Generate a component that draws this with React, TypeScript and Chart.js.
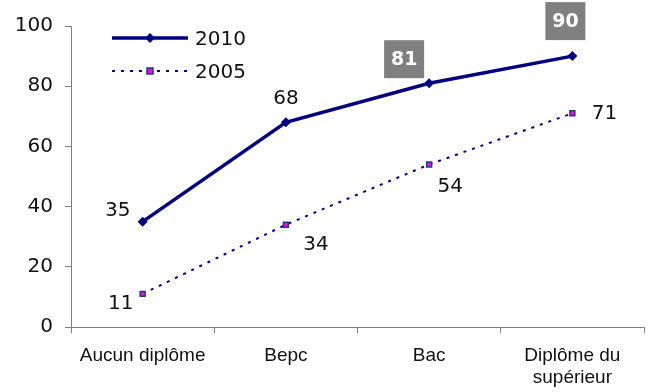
import React, { useEffect, useRef } from "react";
import { Chart, registerables } from "chart.js";

Chart.register(...registerables);

const categories: (string | string[])[] = ["Aucun diplôme", "Bepc", "Bac", ["Diplôme du", "supérieur"]];
const series2010 = [35, 68, 81, 90];
const series2005 = [11, 34, 54, 71];
const yTicks = [0, 20, 40, 60, 80, 100];

const NAVY = "#000080";
const NUM_FONT = "DejaVu Sans, Verdana, sans-serif";

// label placement (offsets from the point, in px) and box style
const labelOffsets2010 = [[-25, -12], [0, -25], [-25, -24], [-7, -35]];
const boxed2010 = [false, false, true, true];
const labelOffsets2005 = [[-22, 9], [30, 19], [21, 21], [32, 0]];

const labelsPlugin = {
  id: "customLabels",
  afterDatasetsDraw(chart: any) {
    const ctx = chart.ctx;
    ctx.save();
    ctx.textAlign = "center";
    ctx.textBaseline = "middle";
    const drawSet = (dsIndex: number, offs: number[][], boxed: boolean[]) => {
      const meta = chart.getDatasetMeta(dsIndex);
      const data = chart.data.datasets[dsIndex].data;
      meta.data.forEach((pt: any, i: number) => {
        const x = pt.x + offs[i][0];
        const y = pt.y + offs[i][1];
        const txt = String(data[i]);
        if (boxed[i]) {
          ctx.fillStyle = "#808080";
          ctx.fillRect(x - 20, y - 19, 40, 38);
          ctx.fillStyle = "#ffffff";
          ctx.font = `bold 19px ${NUM_FONT}`;
          ctx.fillText(txt, x, y + 1);
        } else {
          ctx.fillStyle = "#111111";
          ctx.font = `20px ${NUM_FONT}`;
          ctx.fillText(txt, x, y + 1);
        }
      });
    };
    drawSet(0, labelOffsets2010, boxed2010);
    drawSet(1, labelOffsets2005, [false, false, false, false]);

    // legend
    const lx0 = 112, lx1 = 188, lxm = 150;
    ctx.textAlign = "left";
    ctx.font = `20px ${NUM_FONT}`;
    // 2010
    let ly = 38;
    ctx.strokeStyle = NAVY;
    ctx.lineWidth = 3.5;
    ctx.setLineDash([]);
    ctx.beginPath();
    ctx.moveTo(lx0, ly);
    ctx.lineTo(lx1, ly);
    ctx.stroke();
    ctx.fillStyle = NAVY;
    ctx.beginPath();
    ctx.moveTo(lxm, ly - 5);
    ctx.lineTo(lxm + 5, ly);
    ctx.lineTo(lxm, ly + 5);
    ctx.lineTo(lxm - 5, ly);
    ctx.closePath();
    ctx.fill();
    ctx.fillStyle = "#111111";
    ctx.fillText("2010", 195, ly + 2);
    // 2005
    ly = 71;
    ctx.strokeStyle = NAVY;
    ctx.lineWidth = 2;
    ctx.setLineDash([3, 6]);
    ctx.beginPath();
    ctx.moveTo(lx0, ly);
    ctx.lineTo(lx1, ly);
    ctx.stroke();
    ctx.setLineDash([]);
    ctx.fillStyle = "#ff00ff";
    ctx.fillRect(lxm - 3, ly - 3, 6, 6);
    ctx.strokeStyle = "#1f3f6f";
    ctx.lineWidth = 1.5;
    ctx.strokeRect(lxm - 3, ly - 3, 6, 6);
    ctx.fillStyle = "#111111";
    ctx.fillText("2005", 195, ly + 2);
    ctx.restore();
  },
};

export default function App() {
  const ref = useRef<HTMLCanvasElement>(null);
  useEffect(() => {
    document.body.style.margin = "0";
    const chart = new Chart(ref.current!, {
      type: "line",
      data: {
        labels: categories,
        datasets: [
          {
            label: "2010",
            data: series2010,
            borderColor: NAVY,
            backgroundColor: NAVY,
            borderWidth: 3.5,
            pointStyle: "rectRot",
            pointRadius: 5,
            pointBorderWidth: 0,
            pointBackgroundColor: NAVY,
            tension: 0,
          },
          {
            label: "2005",
            data: series2005,
            borderColor: NAVY,
            backgroundColor: "#ff00ff",
            borderWidth: 2,
            borderDash: [3, 6],
            pointStyle: "rect",
            pointRadius: 3.5,
            pointBorderWidth: 1.5,
            pointBorderColor: "#1f3f6f",
            pointBackgroundColor: "#ff00ff",
            tension: 0,
          },
        ],
      },
      options: {
        animation: false,
        responsive: false,
        layout: { padding: { left: 0, top: 26, right: 9, bottom: 0 } },
        plugins: { legend: { display: false }, tooltip: { enabled: false } },
        scales: {
          x: {
            offset: true,
            grid: { offset: true, drawOnChartArea: false, drawTicks: true, tickLength: 6, color: "#7f7f7f" },
            border: { color: "#7f7f7f", width: 1 },
            ticks: { color: "#111111", font: { family: "Liberation Sans, Arial, sans-serif", size: 19, lineHeight: 1.2 }, padding: 11, maxRotation: 0, autoSkip: false },
            afterFit: (s: any) => { s.height = 65; },
          },
          y: {
            min: 0,
            max: 100,
            afterBuildTicks: (s: any) => { s.ticks = yTicks.map((v) => ({ value: v })); },
            grid: { drawOnChartArea: false, drawTicks: true, tickLength: 6, color: "#7f7f7f" },
            border: { color: "#7f7f7f", width: 1 },
            ticks: { color: "#111111", font: { family: NUM_FONT, size: 20 }, padding: 12 },
            afterFit: (s: any) => { s.width = 71; },
          },
        },
      },
      plugins: [labelsPlugin],
    });
    return () => chart.destroy();
  }, []);
  return <canvas ref={ref} width={653} height={392} style={{ display: "block" }} />;
}
